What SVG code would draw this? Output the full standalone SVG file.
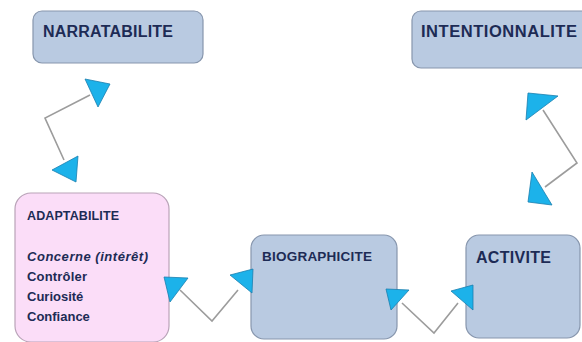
<svg xmlns="http://www.w3.org/2000/svg" width="582" height="342" viewBox="0 0 582 342">
<style>
.blue{fill:#b9cae1;stroke:#8796ad;stroke-width:1.2}
.pink{fill:#fbddf8;stroke:#b9a3b8;stroke-width:1.2}
.t{font-family:"Liberation Sans",Arial,sans-serif;font-weight:bold;fill:#1d2b55}
.line{fill:none;stroke:#9c9c9c;stroke-width:1.6}
.head{fill:#1cb2ea;stroke:#1b7fae;stroke-width:0.8;stroke-linejoin:round}
</style>
<rect width="582" height="342" fill="#ffffff"/>
<g id="narratabilite">
<rect class="blue" x="33" y="11" width="170" height="52" rx="9"/>
<text class="t" x="43" y="37" font-size="16" textLength="130">NARRATABILITE</text>
</g>
<g id="intentionnalite">
<rect class="blue" x="412" y="11" width="185" height="57" rx="9"/>
<text class="t" x="421" y="37" font-size="16.5" textLength="156">INTENTIONNALITE</text>
</g>
<g id="adaptabilite">
<rect class="pink" x="15" y="193" width="154" height="149" rx="16"/>
<text class="t" x="27" y="220" font-size="12.5" textLength="92">ADAPTABILITE</text>
<text class="t" x="27" y="261" font-size="13" font-style="italic" textLength="121">Concerne  (intérêt)</text>
<text class="t" x="27" y="281" font-size="13" textLength="60">Contrôler</text>
<text class="t" x="27" y="301" font-size="13">Curiosité</text>
<text class="t" x="27" y="321" font-size="13">Confiance</text>
</g>
<g id="biographicite">
<rect class="blue" x="251" y="235" width="146" height="104" rx="13"/>
<text class="t" x="262" y="261" font-size="13.5" textLength="110">BIOGRAPHICITE</text>
</g>
<g id="activite">
<rect class="blue" x="466" y="235" width="114" height="103" rx="13"/>
<text class="t" x="476" y="263" font-size="16" textLength="75">ACTIVITE</text>
</g>
<g id="connectors">
<polyline class="line" points="90,95 45,118 64,160"/>
<polygon class="head" points="85,79 110,84 98,107"/>
<polygon class="head" points="52,170 78,156 76,182"/>
<polyline class="line" points="180,290 212,321 238,290"/>
<polygon class="head" points="164,277 188,278 170,302"/>
<polygon class="head" points="230,275 253,269 252,293"/>
<polyline class="line" points="402,303 434,333 458,303"/>
<polygon class="head" points="386,289 409,290 391,310"/>
<polygon class="head" points="451,291 473,285 473,310"/>
<polyline class="line" points="543,110 577,163 545,187"/>
<polygon class="head" points="528,93 558,96 526,120"/>
<polygon class="head" points="532,172 552,205 528,202"/>
</g>
</svg>
